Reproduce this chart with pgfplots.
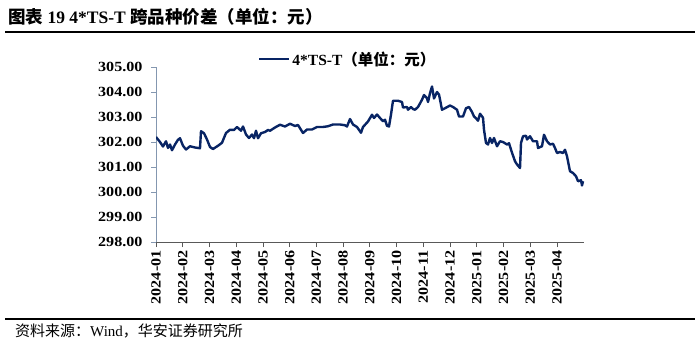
\documentclass[border=0pt]{standalone}
\usepackage{pgfplots}
\pgfplotsset{compat=1.18}
\usepackage{fontspec}
\setmainfont{Liberation Serif}
\newfontfamily\cjk{Noto Sans CJK SC}
\newfontfamily\numfont{Liberation Serif}[FakeStretch=1.15]
\definecolor{navy}{RGB}{8,36,100}
\definecolor{yax}{RGB}{132,151,176}

\begin{document}
\begin{tikzpicture}
\useasboundingbox (0pt,0pt) rectangle (700pt,350pt);
\node[anchor=base west, inner sep=0pt, font=\fontsize{17.5}{19}\selectfont\bfseries] at (8pt,326pt) {{\cjk 图表} 19 4*TS-T {\cjk 跨品种价差（单位：元）}};
\draw[line width=1.2pt] (5pt,318pt) -- (695pt,318pt);
\draw[line width=1.2pt] (5pt,31pt) -- (695pt,31pt);
\node[anchor=base west, inner sep=0pt, font=\fontsize{15}{16}\selectfont] at (15pt,13pt) {{\cjk 资料来源：}Wind{\cjk ，华安证券研究所}};
\begin{axis}[
  at={(156pt,108pt)}, anchor=south west,
  scale only axis, width=428pt, height=175pt,
  xmin=156, xmax=584, ymin=298, ymax=305,
  axis x line=bottom, axis y line=left,
  x axis line style={-, draw=gray!70!black, line width=0.8pt},
  y axis line style={-, draw=yax, line width=0.8pt},
  tick align=outside, major tick length=5pt,
  every tick/.style={line width=0.8pt},
  xtick={156,182.73,209.47,236.2,262.93,289.67,316.4,343.13,369.87,396.6,423.33,450.07,476.8,503.53,530.27,557.0},
  xticklabels={2024-01,2024-02,2024-03,2024-04,2024-05,2024-06,2024-07,2024-08,2024-09,2024-10,2024-11,2024-12,2025-01,2025-02,2025-03,2025-04},
  xticklabel style={rotate=90, anchor=east, font=\fontsize{14}{15}\numfont\bfseries},
  ytick={298,299,300,301,302,303,304,305},
  yticklabel style={xshift=-5pt, font=\fontsize{14}{15}\numfont\bfseries, /pgf/number format/.cd, fixed, fixed zerofill, precision=2, assume math mode=true},
  x tick style={draw=gray!70!black}, y tick style={draw=yax},
  legend style={at={(0.238,1.045)}, anchor=west, draw=none, fill=none, inner sep=0pt, font=\fontsize{15.5}{16}\selectfont\bfseries},
  legend image code/.code={\draw[#1] (0pt,0pt) -- (30pt,0pt);},
]
\addplot[navy, line width=2.4pt, line join=round] coordinates {
(156,302.20)(158,302.10)(160,302.00)(163,301.82)(166,302.03)(168,301.76)(170,301.90)(172,301.67)(175,301.90)(178,302.09)(180,302.15)(183,301.85)(186,301.70)(190,301.83)(195,301.78)(200,301.75)(201,302.43)(204,302.35)(207,302.10)(210,301.80)(213,301.72)(218,301.85)(222,301.97)(226,302.36)(230,302.49)(234,302.48)(237,302.60)(241,302.45)(243,302.62)(246,302.30)(249,302.16)(252,302.30)(254,302.15)(256,302.45)(258,302.15)(261,302.35)(265,302.40)(268,302.48)(270,302.45)(275,302.58)(280,302.69)(285,302.62)(290,302.73)(295,302.64)(298,302.68)(303,302.36)(307,302.50)(312,302.50)(317,302.60)(323,302.60)(328,302.63)(333,302.70)(340,302.70)(345,302.67)(347,302.62)(350,302.92)(353,302.70)(357,302.60)(361,302.37)(363,302.60)(368,302.82)(372,303.09)(374,302.96)(377,303.10)(380,302.96)(383,302.83)(385,302.89)(387,302.65)(389,302.62)(391,303.10)(393,303.65)(398,303.65)(402,303.60)(403,303.38)(407,303.40)(408,303.29)(411,303.40)(413,303.32)(415,303.29)(418,303.40)(422,303.69)(424,303.88)(427,303.75)(428,303.60)(430,303.95)(432,304.22)(434,303.74)(437,304.00)(439,303.90)(442,303.29)(445,303.35)(450,303.46)(453,303.40)(457,303.29)(459,303.02)(463,303.02)(466,303.35)(469,303.40)(472,303.20)(474,303.02)(476,302.95)(478,302.85)(480,303.13)(483,302.97)(484,302.49)(486,301.96)(488,301.90)(490,302.16)(492,301.96)(494,302.16)(497,301.83)(500,302.03)(503,302.00)(507,301.90)(509,301.95)(512,301.57)(515,301.23)(517,301.10)(520,300.96)(521,301.96)(523,302.23)(526,302.25)(527,302.10)(530,302.23)(533,302.03)(537,302.03)(538,301.76)(542,301.83)(544,302.29)(547,302.03)(550,301.90)(553,301.93)(555,301.76)(557,301.56)(560,301.60)(563,301.56)(565,301.69)(567,301.43)(570,300.83)(573,300.76)(576,300.63)(578,300.43)(581,300.47)(582,300.26)(583,300.43)
};
\addlegendentry{4*TS-T{\cjk （单位：元）}}
\end{axis}
\end{tikzpicture}
\end{document}
